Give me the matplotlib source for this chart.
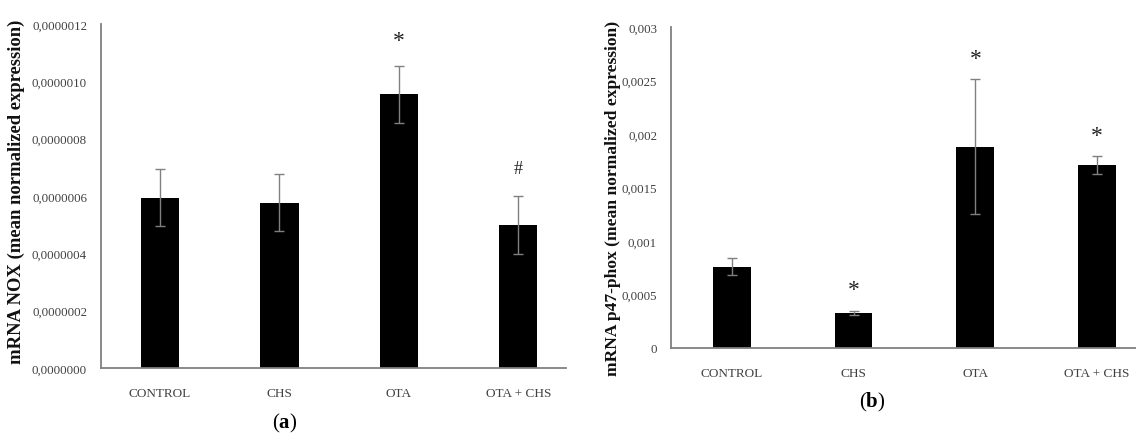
import matplotlib
matplotlib.use("Agg")
import matplotlib.pyplot as plt
import numpy as np

plt.rcParams["mathtext.fontset"] = "custom"
plt.rcParams["mathtext.rm"] = "Liberation Serif"
plt.rcParams["mathtext.bf"] = "Liberation Serif:bold"

categories = ["CONTROL", "CHS", "OTA", "OTA + CHS"]

nox_values = [0.594e-6, 0.577e-6, 0.955e-6, 0.499e-6]
nox_errors = [0.100e-6, 0.100e-6, 0.100e-6, 0.100e-6]
nox_marks = ["", "", "*", "#"]
nox_ticks = [0, 0.2e-6, 0.4e-6, 0.6e-6, 0.8e-6, 1.0e-6, 1.2e-6]
nox_ticklabels = ["0,0000000", "0,0000002", "0,0000004", "0,0000006",
                  "0,0000008", "0,0000010", "0,0000012"]

p47_values = [0.00076, 0.00033, 0.00188, 0.00171]
p47_errors = [0.00008, 0.00002, 0.00063, 0.00008]
p47_marks = ["", "*", "*", "*"]
p47_ticks = [0, 0.0005, 0.001, 0.0015, 0.002, 0.0025, 0.003]
p47_ticklabels = ["0", "0,0005", "0,001", "0,0015", "0,002", "0,0025", "0,003"]

W, H = 1136, 435
fig = plt.figure(figsize=(W / 100, H / 100), dpi=100)

SERIF = ["Liberation Serif", "DejaVu Serif"]
GREY = "#808080"
TXT = "#404040"


def px_axes(x0, x1, ytop, ybot):
    return fig.add_axes([x0 / W, 1 - ybot / H, (x1 - x0) / W, (ybot - ytop) / H])


def draw(ax, values, errors, marks, ticks, ticklabels, xlim, width, ylabel, ylabel_xy,
         ylabel_size, mark_off):
    x = np.arange(len(categories))
    ax.bar(x, values, width=width, color="black", zorder=2)
    ax.errorbar(x, values, yerr=errors, fmt="none", ecolor=GREY, elinewidth=1.0,
                capsize=3.5, capthick=1.0, zorder=3)
    for xi, v, e, m in zip(x, values, errors, marks):
        if m == "*":
            ax.annotate(m, (xi, v + e), xytext=(0, mark_off - 3), textcoords="offset pixels",
                        ha="center", va="center", fontsize=17, family=SERIF,
                        color="#222222")
        elif m:
            ax.annotate(m, (xi, v + e), xytext=(0, mark_off), textcoords="offset pixels",
                        ha="center", va="center", fontsize=13, family=SERIF,
                        color="#222222")
    ax.set_xlim(*xlim)
    ax.set_ylim(ticks[0], ticks[-1])
    ax.set_yticks(ticks)
    ax.set_yticklabels(ticklabels, family=SERIF, fontsize=9.3, color=TXT)
    ax.set_xticks(x)
    ax.set_xticklabels(categories, family=SERIF, fontsize=9.5, color=TXT)
    ax.tick_params(axis="y", length=0, pad=10)
    ax.tick_params(axis="x", length=0, pad=14)
    for s in ["top", "right"]:
        ax.spines[s].set_visible(False)
    for s in ["left", "bottom"]:
        ax.spines[s].set_color(GREY)
        ax.spines[s].set_linewidth(1.3)
    fig.text(ylabel_xy[0] / W, 1 - ylabel_xy[1] / H, ylabel, rotation=90,
             ha="center", va="center", family=SERIF, fontsize=ylabel_size,
             fontweight="bold", color="#111111")


ax1 = px_axes(101, 566, 25, 369)
draw(ax1, nox_values, nox_errors, nox_marks, nox_ticks, nox_ticklabels,
     (-0.494, 3.40), 0.32, "mRNA NOX (mean normalized expression)", (16, 192), 13.4, 28)

ax2 = px_axes(671, 1136, 28, 349)
draw(ax2, p47_values, p47_errors, p47_marks, p47_ticks, p47_ticklabels,
     (-0.50, 3.32), 0.31, "mRNA p47-phox (mean normalized expression)", (613, 198), 12.6, 24)

fig.text(285 / W, 1 - 423 / H, r"($\mathbf{a}$)", ha="center", va="center",
         family=SERIF, fontsize=15, color="black")
fig.text(872 / W, 1 - 402 / H, r"($\mathbf{b}$)", ha="center", va="center",
         family=SERIF, fontsize=15, color="black")

fig.savefig("out.png", dpi=100)
